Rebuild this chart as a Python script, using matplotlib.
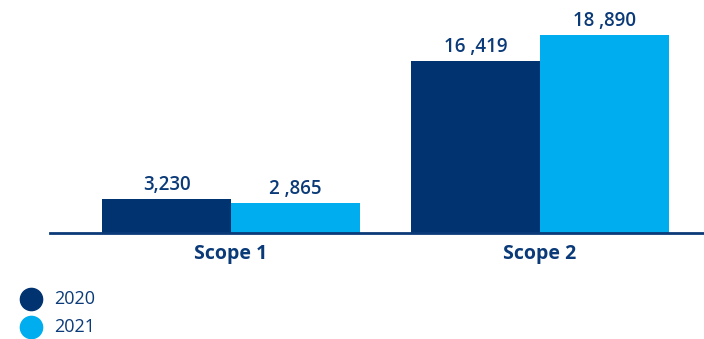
import matplotlib
matplotlib.use("Agg")
import matplotlib.pyplot as plt
from matplotlib.lines import Line2D

categories = ["Scope 1", "Scope 2"]
years = ["2020", "2021"]
values_2020 = [3230, 16419]
values_2021 = [2865, 18890]
labels_2020 = ["3,230", "16 ,419"]
labels_2021 = ["2 ,865", "18 ,890"]

c2020 = "#003370"
c2021 = "#00AEEF"
txt = "#0B3A78"

plt.rcParams['font.family'] = ['Open Sans', 'DejaVu Sans']

W, H = 704, 339
fig = plt.figure(figsize=(W/100, H/100), dpi=100)
ax = fig.add_axes([50/W, 106/H, 654/W, 233/H])

w = 0.4175
x = list(range(len(categories)))
b1 = ax.bar([i - w/2 for i in x], values_2020, width=w, color=c2020)
b2 = ax.bar([i + w/2 for i in x], values_2021, width=w, color=c2021)

for bars, labs in ((b1, labels_2020), (b2, labels_2021)):
    for r, lab in zip(bars, labs):
        ax.annotate(lab, (r.get_x() + r.get_width()/2, r.get_height()),
                    xytext=(0, 3), textcoords="offset points",
                    ha="center", va="bottom", fontsize=13.5,
                    fontweight="semibold", color=txt)

ax.set_xlim(-0.586, 1.531)
ax.set_ylim(0, 22229)
for s in ["top", "right", "left"]:
    ax.spines[s].set_visible(False)
ax.spines["bottom"].set_color(txt)
ax.spines["bottom"].set_linewidth(2)
ax.set_yticks([])
ax.set_xticks(x)
ax.set_xticklabels(categories, fontsize=14, fontweight="bold", color=txt)
ax.tick_params(axis="x", length=0, pad=8)

# legend
for yr, c, yp in zip(years, (c2020, c2021), (299, 327)):
    fig.add_artist(Line2D([31/W], [1 - yp/H], marker="o", markersize=16,
                          color=c, linestyle="", transform=fig.transFigure))
    fig.text(54/W, 1 - yp/H, yr, fontsize=13, color=txt, va="center", ha="left")

fig.savefig("out.png", dpi=100)
